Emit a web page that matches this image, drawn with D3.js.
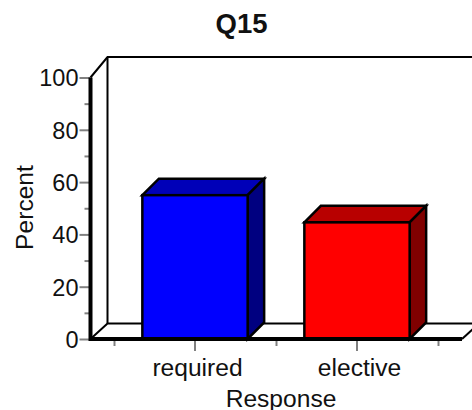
<!DOCTYPE html>
<html>
<head>
<meta charset="utf-8">
<script src="https://cdn.jsdelivr.net/npm/d3@7"></script>
<style>
  html, body { margin: 0; padding: 0; background: #fff; }
  svg { display: block; }
  text { font-family: "Liberation Sans", Arial, sans-serif; fill: #111; }
</style>
</head>
<body>
<svg id="chart" width="472" height="410"></svg>
<script>
const categories = ["required", "elective"];
const percents = [55, 44.6];
const frontColors = ["#0000ff", "#ff0000"];
const topColors = ["#0000b8", "#b80000"];
const sideColors = ["#000080", "#800000"];
const majorTicks = [0, 20, 40, 60, 80, 100];
const minorTicks = [10, 30, 50, 70, 90];

const svg = d3.select("#chart");
const tickSize = 23.5, labelSize = 24.6;

const y = d3.scaleLinear().domain([0, 100]).range([339, 77.5]);
const x = d3.scaleBand().domain(categories).range([114, 438]).paddingInner(0.35).paddingOuter(0.175);

// floor and back wall offsets
const wallDx = 17, wallTopDy = 20.5, floorDy = 15.5;
const axisLeft = 90.5, axisRight = 462;
const barDepth = 16.5;
const line = d3.line();

// back wall
svg.append("path")
  .attr("d", line([[axisLeft, y(100)], [axisLeft + wallDx, y(100) - wallTopDy], [480, y(100) - wallTopDy]]))
  .attr("fill", "none").attr("stroke", "#000").attr("stroke-width", 2);
svg.append("path")
  .attr("d", line([[axisLeft + wallDx, y(100) - wallTopDy], [axisLeft + wallDx, y(0) - floorDy]]))
  .attr("fill", "none").attr("stroke", "#000").attr("stroke-width", 2);

// floor
svg.append("path")
  .attr("d", line([[axisLeft, y(0)], [axisLeft + wallDx, y(0) - floorDy], [480, y(0) - floorDy]]))
  .attr("fill", "none").attr("stroke", "#000").attr("stroke-width", 2);
svg.append("path")
  .attr("d", line([[axisRight, y(0)], [axisRight + wallDx, y(0) - floorDy]]))
  .attr("fill", "none").attr("stroke", "#000").attr("stroke-width", 2);

// y axis ticks
const yMinor = d3.axisLeft(y).tickValues(minorTicks).tickSize(6).tickFormat("");
const yMajor = d3.axisLeft(y).tickValues(majorTicks).tickSize(11).tickPadding(1);
[yMinor, yMajor].forEach((a) => {
  const g = svg.append("g").attr("transform", `translate(${axisLeft},0)`).call(a);
  g.select(".domain").remove();
  g.selectAll("line").attr("stroke", "#808080").attr("stroke-width", 2);
  g.selectAll("text").attr("font-size", tickSize).attr("fill", "#111").attr("dy", "0.36em");
});

// x axis ticks, short ones on the band edges
const xEdges = d3.scaleLinear().domain([0, 2]).range(x.range());
const xMinor = d3.axisBottom(xEdges).tickValues([0, 1, 2]).tickSize(7).tickFormat("");
const xMajor = d3.axisBottom(x).tickSize(12).tickPadding(8);
[xMinor, xMajor].forEach((a) => {
  const g = svg.append("g").attr("transform", `translate(0,${y(0)})`).call(a);
  g.select(".domain").remove();
  g.selectAll("line").attr("stroke", "#808080").attr("stroke-width", 2);
  g.selectAll("text").attr("font-size", labelSize).attr("fill", "#111").attr("dx", 2.5);
});

// bars
const bars = svg.selectAll(".bar").data(categories).enter().append("g").attr("class", "bar");
const barStroke = (sel) => sel.attr("stroke", "#000").attr("stroke-width", 2.5).attr("stroke-linejoin", "miter");

bars.append("path")
  .attr("fill", (d, i) => topColors[i])
  .attr("d", (d, i) => {
    const x0 = x(d), x1 = x(d) + x.bandwidth(), t = y(percents[i]);
    return line([[x0, t], [x0 + barDepth, t - barDepth], [x1 + barDepth, t - barDepth], [x1, t]]) + "Z";
  })
  .call(barStroke);
bars.append("path")
  .attr("fill", (d, i) => sideColors[i])
  .attr("d", (d, i) => {
    const x1 = x(d) + x.bandwidth(), t = y(percents[i]);
    return line([[x1, t], [x1 + barDepth, t - barDepth], [x1 + barDepth, y(0) - barDepth], [x1, y(0)]]) + "Z";
  })
  .call(barStroke);
bars.append("rect")
  .attr("x", (d) => x(d))
  .attr("y", (d, i) => y(percents[i]))
  .attr("width", x.bandwidth())
  .attr("height", (d, i) => y(0) - y(percents[i]))
  .attr("fill", (d, i) => frontColors[i])
  .call(barStroke);

// thick axis lines over everything
svg.append("path")
  .attr("d", line([[axisLeft, y(100)], [axisLeft, y(0)], [axisRight, y(0)]]))
  .attr("fill", "none").attr("stroke", "#000").attr("stroke-width", 4);

// titles
svg.append("text").attr("x", 241.5).attr("y", 33).attr("text-anchor", "middle")
  .attr("font-size", 27.5).attr("font-weight", "bold").text("Q15");
svg.append("text").attr("x", 281).attr("y", 406.5).attr("text-anchor", "middle")
  .attr("font-size", labelSize).text("Response");
svg.append("text").attr("transform", "translate(33,207.5) rotate(-90)").attr("text-anchor", "middle")
  .attr("font-size", labelSize).text("Percent");
</script>
</body>
</html>
